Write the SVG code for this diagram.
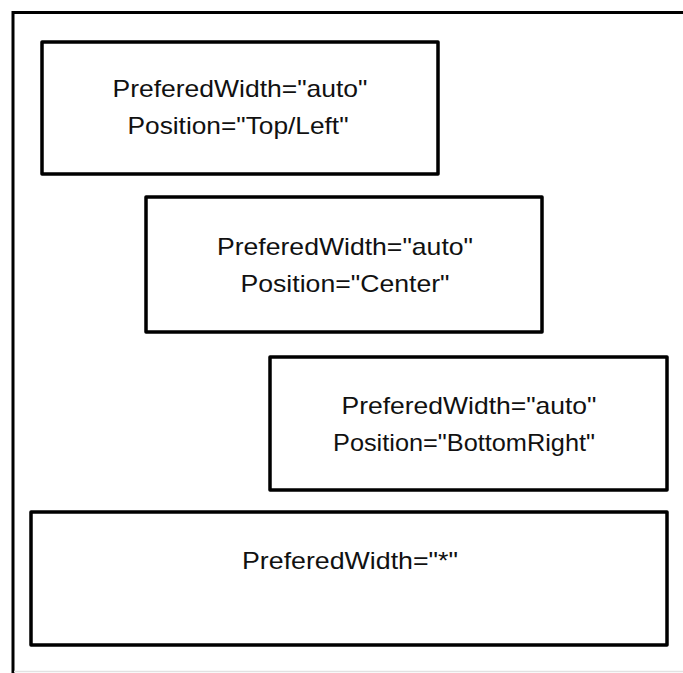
<svg xmlns="http://www.w3.org/2000/svg" width="683" height="673" viewBox="0 0 683 673">
<style>
.box{fill:#fff;stroke:#000;stroke-width:3.5;stroke-linejoin:round}
.frame{fill:none;stroke:#000;stroke-width:3}
.t{font-family:"Liberation Sans",Arial,sans-serif;font-size:24px;fill:#111;text-anchor:middle}
</style>
<rect width="683" height="673" fill="#fff"/>
<g id="frame">
<path class="frame" d="M683 12.5 L13 12.5 L13 673"/>
<line x1="14" y1="671.5" x2="683" y2="671.5" stroke="#e2e2e2" stroke-width="1.5"/>
</g>
<g id="node-topleft">
<rect class="box" x="42" y="42" width="396" height="132"/>
<text class="t" x="240" y="97" textLength="255" lengthAdjust="spacingAndGlyphs">PreferedWidth="auto"</text>
<text class="t" x="238" y="134" textLength="221" lengthAdjust="spacingAndGlyphs">Position="Top/Left"</text>
</g>
<g id="node-center">
<rect class="box" x="146" y="197" width="396" height="135"/>
<text class="t" x="345" y="255" textLength="256" lengthAdjust="spacingAndGlyphs">PreferedWidth="auto"</text>
<text class="t" x="345" y="292" textLength="209" lengthAdjust="spacingAndGlyphs">Position="Center"</text>
</g>
<g id="node-bottomright">
<rect class="box" x="270" y="357" width="397" height="133"/>
<text class="t" x="469" y="414" textLength="255" lengthAdjust="spacingAndGlyphs">PreferedWidth="auto"</text>
<text class="t" x="464" y="451" textLength="262" lengthAdjust="spacingAndGlyphs">Position="BottomRight"</text>
</g>
<g id="node-star">
<rect class="box" x="31" y="512" width="636" height="133"/>
<text class="t" x="350" y="569" textLength="216" lengthAdjust="spacingAndGlyphs">PreferedWidth="*"</text>
</g>
<g id="connectors"></g>
</svg>
